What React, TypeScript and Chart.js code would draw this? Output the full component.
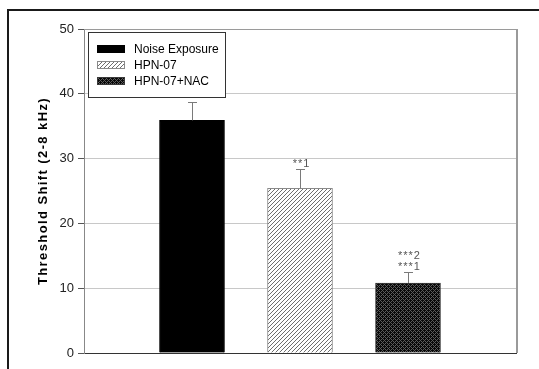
import React, { useEffect, useRef } from "react";
import { Chart, registerables } from "chart.js";

Chart.register(...registerables);

const groups = ["Noise Exposure", "HPN-07", "HPN-07+NAC"];
const positions = [1, 2, 3];
const means = [35.9, 25.4, 10.8];
const errors = [2.8, 3.0, 1.7];
const annotations: string[][] = [[], ["**1"], ["***1", "***2"]];
const yMin = 0;
const yMax = 50;
const yStep = 10;
const yTitle = "Threshold Shift (2-8 kHz)";

const FONT = "'Liberation Sans', Arial, Helvetica, sans-serif";

function makeHatch(): CanvasPattern | string {
  const c = document.createElement("canvas");
  c.width = 4;
  c.height = 4;
  const g = c.getContext("2d");
  if (!g) return "#ddd";
  g.fillStyle = "#ffffff";
  g.fillRect(0, 0, 4, 4);
  g.fillStyle = "#6e6e6e";
  for (let x = 0; x < 4; x++) g.fillRect(x, 3 - x, 1, 1);
  return g.createPattern(c, "repeat") || "#ddd";
}

function makeCross(): CanvasPattern | string {
  const c = document.createElement("canvas");
  c.width = 4;
  c.height = 4;
  const g = c.getContext("2d");
  if (!g) return "#222";
  g.fillStyle = "#080808";
  g.fillRect(0, 0, 4, 4);
  g.fillStyle = "#5a5a5a";
  for (let x = 0; x < 4; x++)
    for (let y = 0; y < 4; y++)
      if ((x + y) % 4 === 0 || (x - y + 4) % 4 === 0) g.fillRect(x, y, 1, 1);
  return g.createPattern(c, "repeat") || "#222";
}

const framePlugin = {
  id: "frame",
  beforeDraw(chart: any) {
    const ctx = chart.ctx;
    ctx.save();
    ctx.fillStyle = "#fff";
    ctx.fillRect(0, 0, chart.width, chart.height);
    ctx.strokeStyle = "#1a1a1a";
    ctx.lineWidth = 2;
    ctx.beginPath();
    ctx.moveTo(8, chart.height + 2);
    ctx.lineTo(8, 10);
    ctx.lineTo(chart.width + 2, 10);
    ctx.stroke();
    ctx.restore();
  },
};

const errorPlugin = {
  id: "errs",
  afterDatasetsDraw(chart: any) {
    const ctx = chart.ctx;
    const ys = chart.scales.y;
    ctx.save();
    chart.data.datasets.forEach((_ds: any, i: number) => {
      const el = chart.getDatasetMeta(i).data[0];
      if (!el) return;
      const x = Math.round(el.x) + 0.5;
      const yBar = ys.getPixelForValue(means[i]);
      const yTop = Math.round(ys.getPixelForValue(means[i] + errors[i])) + 0.5;
      ctx.strokeStyle = "#7a7a7a";
      ctx.lineWidth = 1;
      ctx.beginPath();
      ctx.moveTo(x, yBar);
      ctx.lineTo(x, yTop);
      ctx.moveTo(x - 4.5, yTop);
      ctx.lineTo(x + 4.5, yTop);
      ctx.stroke();
      ctx.fillStyle = "#555";
      ctx.font = `11px ${FONT}`;
      (ctx as any).letterSpacing = "1px";
      ctx.textAlign = "center";
      ctx.textBaseline = "middle";
      annotations[i].forEach((t, k) => {
        ctx.fillText(t, x + 1, yTop - 6 - k * 11);
      });
    });
    ctx.restore();
  },
};

const legendPlugin = {
  id: "boxLegend",
  afterDraw(chart: any) {
    const ctx = chart.ctx;
    const a = chart.chartArea;
    ctx.save();
    ctx.strokeStyle = "#9a9a9a";
    ctx.lineWidth = 1;
    ctx.beginPath();
    ctx.moveTo(a.left, Math.round(a.top) + 0.5);
    ctx.lineTo(a.right + 2, Math.round(a.top) + 0.5);
    ctx.stroke();
    ctx.lineWidth = 2;
    ctx.beginPath();
    ctx.moveTo(Math.round(a.right) + 1, Math.round(a.top));
    ctx.lineTo(Math.round(a.right) + 1, a.bottom);
    ctx.stroke();

    ctx.save();
    ctx.translate(43.5, (a.top + a.bottom) / 2);
    ctx.rotate(-Math.PI / 2);
    ctx.font = `bold 13px ${FONT}`;
    (ctx as any).letterSpacing = "1.4px";
    ctx.fillStyle = "#000";
    ctx.textAlign = "center";
    ctx.textBaseline = "middle";
    ctx.fillText(yTitle, 0, 0);
    ctx.restore();

    const lx = Math.round(a.left) + 4;
    const ly = Math.round(a.top) + 3;
    const lw = 137;
    const lh = 65;
    ctx.fillStyle = "#fff";
    ctx.fillRect(lx, ly, lw, lh);
    ctx.strokeStyle = "#333";
    ctx.lineWidth = 1;
    ctx.strokeRect(lx + 0.5, ly + 0.5, lw, lh);
    ctx.font = `12px ${FONT}`;
    ctx.textBaseline = "middle";
    ctx.textAlign = "left";
    chart.data.datasets.forEach((ds: any, i: number) => {
      const cy = ly + 17 + i * 16;
      ctx.fillStyle = ds.backgroundColor;
      ctx.fillRect(lx + 9, cy - 4, 28, 8);
      ctx.strokeStyle = ds.borderColor;
      ctx.strokeRect(lx + 9.5, cy - 3.5, 27, 7);
      ctx.fillStyle = "#000";
      ctx.fillText(ds.label, lx + 46, cy + 0.5);
    });
    ctx.restore();
  },
};

export default function App() {
  const ref = useRef<HTMLCanvasElement | null>(null);

  useEffect(() => {
    if (!ref.current) return;
    const fills = ["#000000", makeHatch(), makeCross()];
    const borders = ["#000000", "#8a8a8a", "#3a3a3a"];
    const chart = new Chart(ref.current, {
      type: "bar",
      data: {
        datasets: groups.map((g, i) => ({
          label: g,
          data: [{ x: positions[i], y: means[i] }],
          backgroundColor: fills[i] as any,
          borderColor: borders[i],
          borderWidth: 1,
          barThickness: 65,
          grouped: false,
        })),
      },
      options: {
        animation: false,
        responsive: false,
        devicePixelRatio: 1,
        layout: { padding: { top: 29, right: 23, left: 0, bottom: 0 } },
        plugins: {
          legend: { display: false },
          tooltip: { enabled: false },
        },
        scales: {
          x: {
            type: "linear",
            min: 0,
            max: 4,
            offset: false,
            ticks: { display: false },
            grid: { display: false, offset: false },
            border: { display: true, color: "#333", width: 1 },
            afterFit: (s: any) => {
              s.height = 16;
            },
          },
          y: {
            min: yMin,
            max: yMax,
            ticks: {
              stepSize: yStep,
              color: "#222",
              font: { family: FONT, size: 13 },
              padding: 4,
            },
            grid: {
              color: (c: any) =>
                c.tick && (c.tick.value === yMin || c.tick.value === yMax)
                  ? "rgba(0,0,0,0)"
                  : "#c8c8c8",
              tickColor: "#555",
              tickLength: 6,
              lineWidth: 1,
            },
            border: { display: true, color: "#888", width: 1 },
            title: { display: false },
            afterFit: (s: any) => {
              s.width = 84;
            },
          },
        },
      },
      plugins: [framePlugin, errorPlugin, legendPlugin],
    } as any);
    return () => chart.destroy();
  }, []);

  return (
    <div style={{ position: "fixed", left: 0, top: 0, width: 539, height: 369, background: "#fff" }}>
      <canvas ref={ref} width={539} height={369} style={{ width: 539, height: 369, display: "block" }} />
    </div>
  );
}
